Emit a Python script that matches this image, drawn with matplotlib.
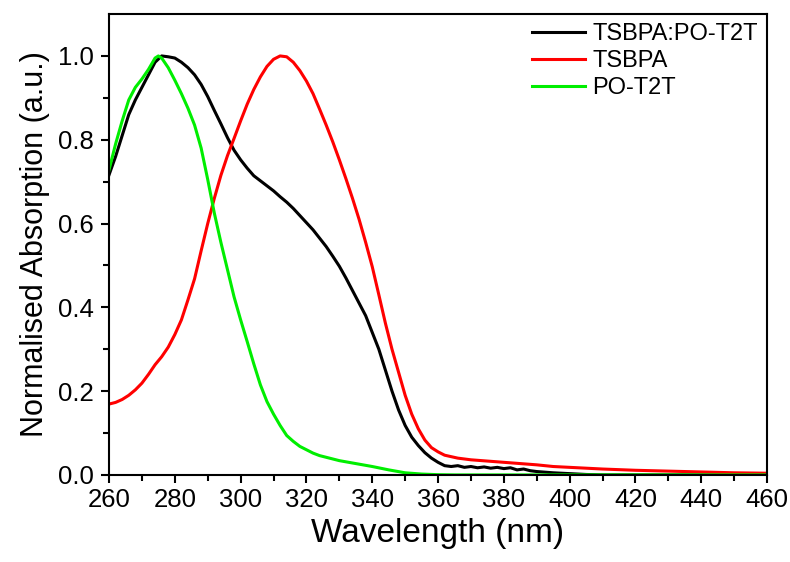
import numpy as np
import matplotlib.pyplot as plt

plt.rcParams['font.family'] = ['Liberation Sans', 'DejaVu Sans']

# TSBPA:PO-T2T (blend)
wl_blend = [260, 262, 264, 266, 268, 270, 272, 274, 276, 278, 280, 282, 284, 286, 288, 290,
            292, 294, 296, 298, 300, 302, 304, 306, 308, 310, 312, 314, 316, 318, 320, 322,
            324, 326, 328, 330, 332, 334, 336, 338, 340, 342, 344, 346, 348, 350, 352, 354,
            356, 358, 360, 362, 364, 366, 368, 370, 372, 374, 376, 378, 380, 382, 384, 386,
            388, 390, 395, 400, 405, 410, 460]
abs_blend = [0.716, 0.76, 0.81, 0.86, 0.895, 0.925, 0.955, 0.985, 1.0, 0.998, 0.995, 0.985,
             0.972, 0.955, 0.932, 0.903, 0.87, 0.838, 0.805, 0.775, 0.752, 0.732, 0.714, 0.702,
             0.69, 0.678, 0.664, 0.651, 0.636, 0.619, 0.602, 0.585, 0.565, 0.545, 0.522, 0.498,
             0.47, 0.44, 0.41, 0.38, 0.34, 0.30, 0.25, 0.20, 0.155, 0.118, 0.09, 0.07, 0.053,
             0.04, 0.03, 0.022, 0.02, 0.022, 0.018, 0.02, 0.017, 0.019, 0.016, 0.018, 0.015,
             0.017, 0.012, 0.014, 0.01, 0.008, 0.005, 0.003, 0.001, 0.0, 0.0]

# TSBPA
wl_tsbpa = [260, 262, 264, 266, 268, 270, 272, 274, 276, 278, 280, 282, 284, 286, 288, 290,
            292, 294, 296, 298, 300, 302, 304, 306, 308, 310, 312, 314, 316, 318, 320, 322,
            324, 326, 328, 330, 332, 334, 336, 338, 340, 342, 344, 346, 348, 350, 352, 354,
            356, 358, 360, 362, 366, 370, 375, 380, 385, 390, 395, 400, 410, 420, 430, 440,
            450, 460]
abs_tsbpa = [0.169, 0.173, 0.18, 0.19, 0.203, 0.219, 0.24, 0.263, 0.282, 0.305, 0.335, 0.37,
             0.418, 0.468, 0.535, 0.6, 0.66, 0.715, 0.762, 0.803, 0.845, 0.885, 0.92, 0.95,
             0.975, 0.992, 1.0, 0.998, 0.985, 0.965, 0.94, 0.91, 0.873, 0.835, 0.795, 0.752,
             0.707, 0.66, 0.61, 0.555, 0.497, 0.43, 0.362, 0.30, 0.245, 0.19, 0.145, 0.11,
             0.083, 0.065, 0.055, 0.047, 0.04, 0.036, 0.033, 0.03, 0.027, 0.024, 0.02, 0.018,
             0.014, 0.011, 0.009, 0.007, 0.005, 0.004]

# PO-T2T
wl_pot2t = [260, 262, 264, 266, 268, 270, 272, 274, 275, 276, 278, 280, 282, 284, 286, 288,
            290, 292, 294, 296, 298, 300, 302, 304, 306, 308, 310, 312, 314, 316, 318, 320,
            322, 324, 326, 328, 330, 335, 340, 345, 350, 355, 360, 365, 460]
abs_pot2t = [0.728, 0.79, 0.845, 0.895, 0.925, 0.945, 0.968, 0.995, 1.0, 0.995, 0.972, 0.942,
             0.91, 0.875, 0.835, 0.78, 0.705, 0.625, 0.555, 0.49, 0.425, 0.37, 0.318, 0.265,
             0.215, 0.175, 0.145, 0.118, 0.094, 0.08, 0.068, 0.06, 0.052, 0.046, 0.042,
             0.038, 0.034, 0.027, 0.02, 0.012, 0.005, 0.002, 0.0005, 0.0, 0.0]

fig = plt.figure(figsize=(7.9, 5.62), dpi=100)
ax = fig.add_axes([0.138, 0.155, 0.833, 0.820])

ax.plot(wl_blend, abs_blend, color='black', lw=2.2, label='TSBPA:PO-T2T')
ax.plot(wl_tsbpa, abs_tsbpa, color='#ff0000', lw=2.2, label='TSBPA')
ax.plot(wl_pot2t, abs_pot2t, color='#00ee00', lw=2.2, label='PO-T2T')

ax.set_xlim(260, 460)
ax.set_ylim(0, 1.1)
ax.set_xticks(np.arange(260, 461, 20))
ax.set_xticks(np.arange(260, 461, 10), minor=True)
ax.set_yticks(np.arange(0, 1.01, 0.2))
ax.set_yticks(np.arange(0, 1.01, 0.1), minor=True)
ax.set_yticklabels(['%.1f' % v for v in np.arange(0, 1.01, 0.2)])

ax.tick_params(which='both', direction='out', width=1.5, labelsize=18.5, top=False, right=False)
ax.tick_params(axis='y', pad=5)
ax.tick_params(which='major', length=6)
ax.tick_params(which='minor', length=4)
for s in ax.spines.values():
    s.set_linewidth(1.5)

ax.set_xlabel('Wavelength (nm)', fontsize=24, labelpad=4)
ax.set_ylabel('Normalised Absorption (a.u.)', fontsize=22, labelpad=6)

ax.legend(loc='upper right', bbox_to_anchor=(1.0, 1.0), frameon=False, fontsize=17,
          handlelength=2.25, handletextpad=0.3, labelspacing=0.2, borderaxespad=0.0)

fig.savefig('out.png', dpi=100)
